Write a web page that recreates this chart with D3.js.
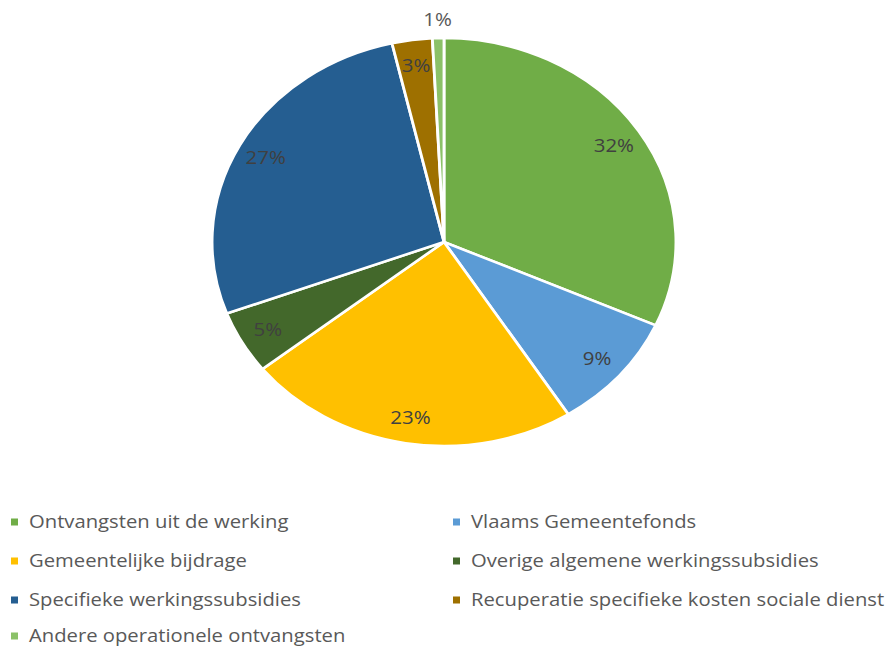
<!DOCTYPE html>
<html><head><meta charset="utf-8">
<script src="https://cdn.jsdelivr.net/npm/d3@7"></script>
<style>body{margin:0;background:#fff}svg{display:block}</style>
</head><body>
<svg id="c" width="889" height="648"></svg>
<script>
const categories = ["Ontvangsten uit de werking","Vlaams Gemeentefonds","Gemeentelijke bijdrage","Overige algemene werkingssubsidies","Specifieke werkingssubsidies","Recuperatie specifieke kosten sociale dienst","Andere operationele ontvangsten"];
const values = [31.7, 9.3, 23.3, 5.0, 27.1, 2.8, 0.8];
const labels = ["32%","9%","23%","5%","27%","3%","1%"];
const colors = ["#70AD47","#5B9BD5","#FFC000","#43682B","#255E91","#9E7000","#8BC168"];

const svg = d3.select("#c");
const sx = 1.137, cx = 444, cy = 242, R = 204;
const pie = d3.pie().sort(null).value(d => d)(values);
const arc = d3.arc().innerRadius(0).outerRadius(R);
const labelArc = d3.arc().innerRadius(178).outerRadius(178);
const outArc = d3.arc().innerRadius(222).outerRadius(222);

const g = svg.append("g").attr("transform", `translate(${cx},${cy}) scale(${sx},1)`);
g.selectAll("path").data(pie).join("path")
  .attr("d", arc).attr("fill", (d,i) => colors[i])
  .attr("stroke", "#fff").attr("stroke-width", 2.5);

const lab = svg.append("g");
pie.forEach((d,i) => {
  const c = (i === 6 ? outArc : labelArc).centroid(d);
  lab.append("text")
    .attr("transform", `translate(${cx + c[0]*sx},${cy + c[1]}) scale(${sx},1)`)
    .attr("text-anchor","middle").attr("dy","0.35em")
    .attr("font-family","'Open Sans', sans-serif").attr("font-size",18)
    .attr("fill", i === 6 ? "#595959" : "#404040")
    .text(labels[i]);
});

const leg = svg.append("g");
const rowsY = [522, 561, 600, 636];
const colX = [11, 453];
const lsx = 1.125;
categories.forEach((name, i) => {
  const col = i % 2, row = Math.floor(i / 2);
  const x = colX[col], y = rowsY[row];
  leg.append("rect").attr("x", x).attr("y", y - 3.5).attr("width", 7).attr("height", 7).attr("fill", colors[i]);
  leg.append("text")
    .attr("transform", `translate(${x + 18},${y}) scale(${lsx},1)`)
    .attr("dy","0.35em")
    .attr("font-family","'Open Sans', sans-serif").attr("font-size",18)
    .attr("fill","#595959").text(name);
});
</script>
</body></html>
